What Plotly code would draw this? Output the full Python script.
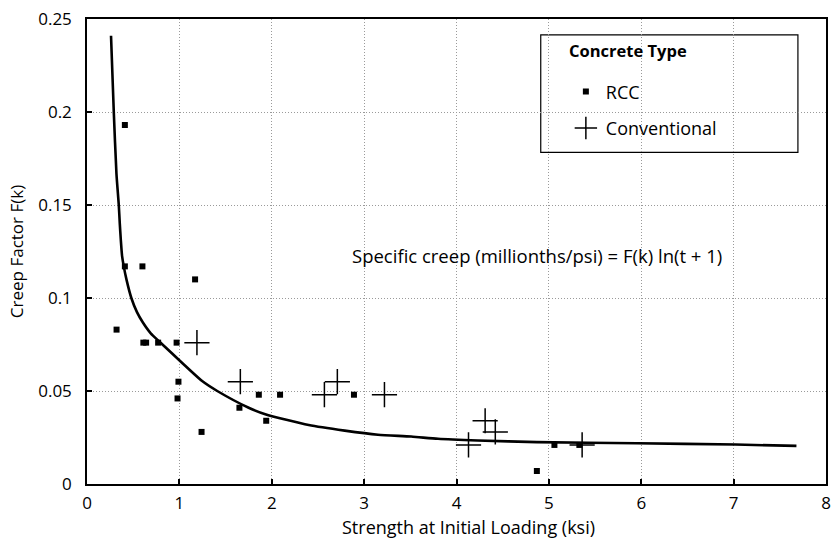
import plotly.graph_objects as go

# RCC specimens: strength at initial loading (ksi) vs creep factor F(k)
rcc_x = [0.32, 0.41, 0.41, 0.60, 0.61, 0.64, 0.77, 0.97, 0.99, 0.98, 1.17, 1.24,
         1.65, 1.86, 1.94, 2.09, 2.89, 4.87, 5.06, 5.33]
rcc_y = [0.083, 0.193, 0.117, 0.117, 0.076, 0.076, 0.076, 0.076, 0.055, 0.046, 0.110, 0.028,
         0.041, 0.048, 0.034, 0.048, 0.048, 0.007, 0.021, 0.021]

# Conventional concrete specimens
conv_x = [1.19, 1.66, 2.57, 2.71, 3.22, 4.13, 4.31, 4.42, 5.36]
conv_y = [0.076, 0.055, 0.048, 0.055, 0.048, 0.021, 0.034, 0.028, 0.021]

# Fitted creep-factor curve
fit_x = [0.26, 0.29, 0.319, 0.344, 0.355, 0.366, 0.380, 0.398, 0.427, 0.480, 0.541, 0.605,
         0.69, 0.785, 1.054, 1.25, 1.41, 1.75, 1.93, 2.40, 2.79, 3.15, 3.51, 3.80, 4.23, 4.87,
         5.95, 7.02, 7.68]
fit_y = [0.241, 0.200, 0.1667, 0.150, 0.140, 0.1313, 0.1225, 0.117, 0.110, 0.100, 0.0924, 0.0868,
         0.081, 0.0765, 0.064, 0.0552, 0.050, 0.041, 0.0375, 0.0317, 0.0287, 0.0265, 0.0255,
         0.0243, 0.0234, 0.0225, 0.0219, 0.0212, 0.0205]

x_ticks = [0, 1, 2, 3, 4, 5, 6, 7, 8]
y_ticks = [0, 0.05, 0.1, 0.15, 0.2, 0.25]
y_tick_text = ["0", "0.05", "0.1", "0.15", "0.2", "0.25"]

FONT = "Open Sans"

fig = go.Figure()

fig.add_trace(go.Scatter(
    x=fit_x, y=fit_y, mode="lines",
    line=dict(color="black", width=2.6, shape="spline", smoothing=0.6),
    showlegend=False, hoverinfo="skip",
))

fig.add_trace(go.Scatter(
    x=rcc_x, y=rcc_y, mode="markers", name="RCC",
    marker=dict(symbol="square", size=6, color="black"),
    legendgroup="a",
))

fig.add_trace(go.Scatter(
    x=conv_x, y=conv_y, mode="markers", name="Conventional",
    marker=dict(symbol="cross-thin", size=18, color="black",
                line=dict(color="black", width=1.5)),
    legendgroup="b",
))

# Legend frame and heading
fig.add_shape(type="rect", xref="paper", yref="paper",
              x0=0.614, x1=0.962, y0=0.713, y1=0.966,
              line=dict(color="black", width=1.2), fillcolor="white", layer="below")
fig.add_annotation(
    x=0.649, y=0.932, xref="paper", yref="paper", xanchor="left", yanchor="middle",
    text="<b>Concrete Type</b>", showarrow=False,
    font=dict(family=FONT, size=16.5, color="black"),
)

fig.add_annotation(
    x=2.85, y=0.1226, xref="x", yref="y", xanchor="left", yanchor="middle",
    text="Specific creep (millionths/psi) = F(k) ln(t + 1)", showarrow=False,
    font=dict(family=FONT, size=18.5, color="black"),
)

# x-axis title
fig.add_annotation(
    x=0.516, y=-0.093, xref="paper", yref="paper", xanchor="center", yanchor="middle",
    text="Strength at Initial Loading (ksi)", showarrow=False,
    font=dict(family=FONT, size=18, color="black"),
)

axis_common = dict(
    showline=True, linecolor="black", linewidth=1.5, mirror=True,
    ticks="inside", ticklen=5, tickwidth=1.5, tickcolor="black",
    showgrid=True, gridcolor="#9a9a9a", griddash="1px,2px", gridwidth=1,
    zeroline=False, tickfont=dict(family=FONT, size=17, color="black"),
)

fig.update_xaxes(
    range=[0, 8], tickvals=x_ticks, ticktext=[str(v) for v in x_ticks],
    ticklabelstandoff=3,
    **axis_common,
)
fig.update_yaxes(
    range=[0, 0.25], tickvals=y_ticks, ticktext=y_tick_text,
    ticklabelstandoff=10,
    title=dict(text="Creep Factor F(k)", standoff=10,
               font=dict(family=FONT, size=17, color="black")),
    **axis_common,
)

fig.update_layout(
    width=838, height=546,
    margin=dict(l=87, r=7, t=13, b=62),
    plot_bgcolor="white", paper_bgcolor="white",
    font=dict(family=FONT, color="black"),
    legend=dict(
        x=0.648, y=0.883, xanchor="left", yanchor="top",
        bgcolor="rgba(0,0,0,0)", borderwidth=0,
        font=dict(family=FONT, size=18, color="black"),
        tracegroupgap=10, traceorder="grouped", itemwidth=30,
    ),
)

fig.write_html("out.html")
